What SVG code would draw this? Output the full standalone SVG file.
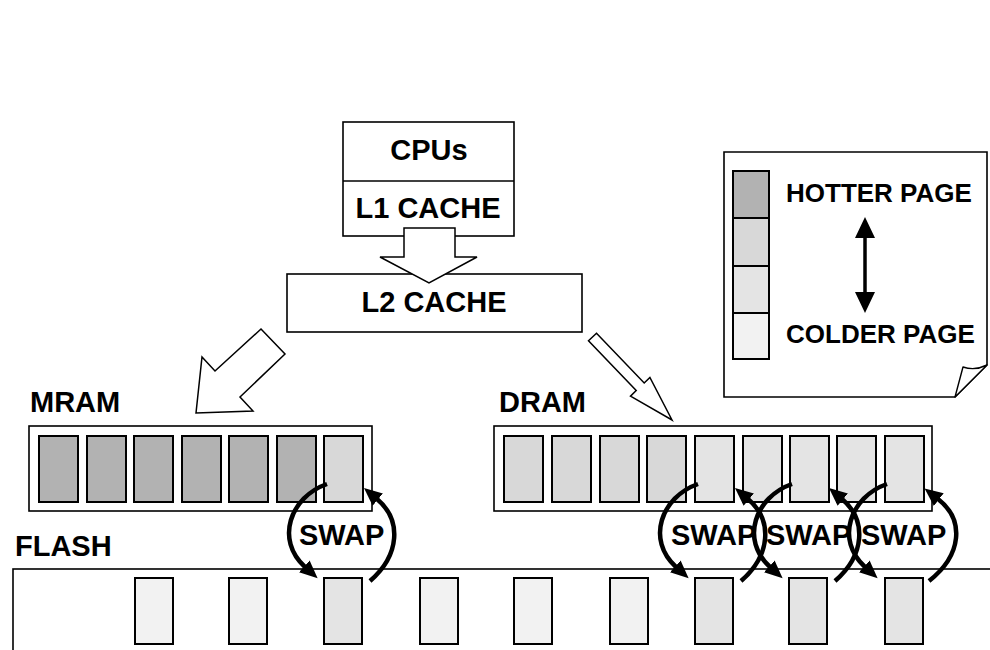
<svg xmlns="http://www.w3.org/2000/svg" width="990" height="650" viewBox="0 0 990 650">
<defs>
<style>
.box{fill:#fff;stroke:#000;stroke-width:1.6}
.cell{stroke:#000;stroke-width:2}
.hot{fill:#b2b2b2}.warm{fill:#d8d8d8}.cool{fill:#e4e4e4}.cold{fill:#f2f2f2}
.t{font-family:"Liberation Sans",Arial,sans-serif;font-weight:bold;font-size:29px;fill:#000}
.lg{font-size:26px}
.blk{fill:#fff;stroke:#000;stroke-width:1.5;stroke-linejoin:miter}
.sw{fill:none;stroke:#000;stroke-width:4.5;marker-end:url(#ah)}
</style>
<marker id="ah" markerUnits="userSpaceOnUse" markerWidth="18" markerHeight="16" viewBox="0 0 18 16" refX="1" refY="8" orient="auto">
<path d="M0,0 L18,8 L0,16 Z" fill="#000"/>
</marker>
</defs>
<rect width="990" height="650" fill="#fff"/>

<g id="cpu">
<rect class="box" x="343" y="122" width="171" height="114"/>
<line x1="343" y1="181" x2="514" y2="181" stroke="#000" stroke-width="1.6"/>
<text class="t" x="429" y="160" text-anchor="middle">CPUs</text>
<text class="t" x="428" y="218" text-anchor="middle">L1 CACHE</text>
</g>

<g id="l2">
<rect class="box" x="287" y="274" width="295" height="58"/>
<text class="t" x="434" y="312" text-anchor="middle">L2 CACHE</text>
</g>

<g id="legend">
<path d="M724,152 H987 V365 L955,397 H724 Z" fill="#fff" stroke="#000" stroke-width="1.6"/>
<path d="M987,365 Q975,371 963,367 L955,397 Z" fill="#fff" stroke="#000" stroke-width="1.4" stroke-linejoin="round"/>
<rect class="cell hot" x="733" y="171" width="36" height="47"/>
<rect class="cell warm" x="733" y="218" width="36" height="48"/>
<rect class="cell cool" x="733" y="266" width="36" height="47"/>
<rect class="cell cold" x="733" y="313" width="36" height="46"/>
<text class="t lg" x="786" y="202">HOTTER PAGE</text>
<text class="t lg" x="786" y="343">COLDER PAGE</text>
<line x1="865" y1="234" x2="865" y2="296" stroke="#000" stroke-width="3.5"/>
<path d="M865,217 L855,238 L875,238 Z M865,313 L855,292 L875,292 Z" fill="#000"/>
</g>

<g id="mram">
<text class="t" x="30" y="412">MRAM</text>
<rect class="box" x="29" y="426" width="343" height="85"/>
<rect class="cell hot" x="39" y="436" width="39" height="66"/>
<rect class="cell hot" x="87" y="436" width="39" height="66"/>
<rect class="cell hot" x="134" y="436" width="39" height="66"/>
<rect class="cell hot" x="182" y="436" width="39" height="66"/>
<rect class="cell hot" x="229" y="436" width="39" height="66"/>
<rect class="cell hot" x="277" y="436" width="39" height="66"/>
<rect class="cell warm" x="324" y="436" width="39" height="66"/>
</g>

<g id="dram">
<text class="t" x="499" y="412">DRAM</text>
<rect class="box" x="494" y="426" width="438" height="85"/>
<rect class="cell warm" x="504" y="436" width="39" height="66"/>
<rect class="cell warm" x="552" y="436" width="39" height="66"/>
<rect class="cell warm" x="600" y="436" width="39" height="66"/>
<rect class="cell warm" x="647" y="436" width="39" height="66"/>
<rect class="cell cool" x="695" y="436" width="39" height="66"/>
<rect class="cell cool" x="743" y="436" width="39" height="66"/>
<rect class="cell cool" x="790" y="436" width="39" height="66"/>
<rect class="cell cool" x="837" y="436" width="39" height="66"/>
<rect class="cell cool" x="885" y="436" width="39" height="66"/>
</g>

<g id="flash">
<text class="t" x="15" y="556">FLASH</text>
<rect x="13" y="569" width="1000" height="120" fill="#fff" stroke="#000" stroke-width="1.6"/>
<rect class="cell cold" x="135" y="578" width="38" height="66"/>
<rect class="cell cold" x="229" y="578" width="38" height="66"/>
<rect class="cell cool" x="324" y="578" width="38" height="66"/>
<rect class="cell cold" x="420" y="578" width="38" height="66"/>
<rect class="cell cold" x="514" y="578" width="38" height="66"/>
<rect class="cell cold" x="610" y="578" width="38" height="66"/>
<rect class="cell cool" x="695" y="578" width="38" height="66"/>
<rect class="cell cool" x="789" y="578" width="38" height="66"/>
<rect class="cell cool" x="885" y="578" width="38" height="66"/>
</g>

<g id="swap-labels">
<text class="t" x="299" y="545">SWAP</text>
<text class="t" x="671" y="545">SWAP</text>
<text class="t" x="766" y="545">SWAP</text>
<text class="t" x="861" y="545">SWAP</text>
</g>

<g id="connectors">
<polygon class="blk" points="404,228 455,228 455,257 477,257 429,283 380,257 404,257"/>
<polygon class="blk" points="261,329 285,354 240,397 253,411 196,413 202,357 215,371"/>
<polygon class="blk" points="596.5,333.2 644.2,383 649.9,377.5 672,420 630.5,396.1 636.2,390.6 588.5,340.8"/>
<path class="sw" d="M327,484 C290,497 275,540 305,567"/>
<path class="sw" d="M370,581 C400,555 402,520 377,499"/>
<path class="sw" d="M698,484 C661,497 646,540 676,567"/>
<path class="sw" d="M741,581 C771,555 773,520 748,499"/>
<path class="sw" d="M792,484 C755,497 740,540 770,567"/>
<path class="sw" d="M835,581 C865,555 867,520 842,499"/>
<path class="sw" d="M887,484 C850,497 835,540 865,567"/>
<path class="sw" d="M929,581 C962,555 965,520 938,499"/>
</g>
</svg>
